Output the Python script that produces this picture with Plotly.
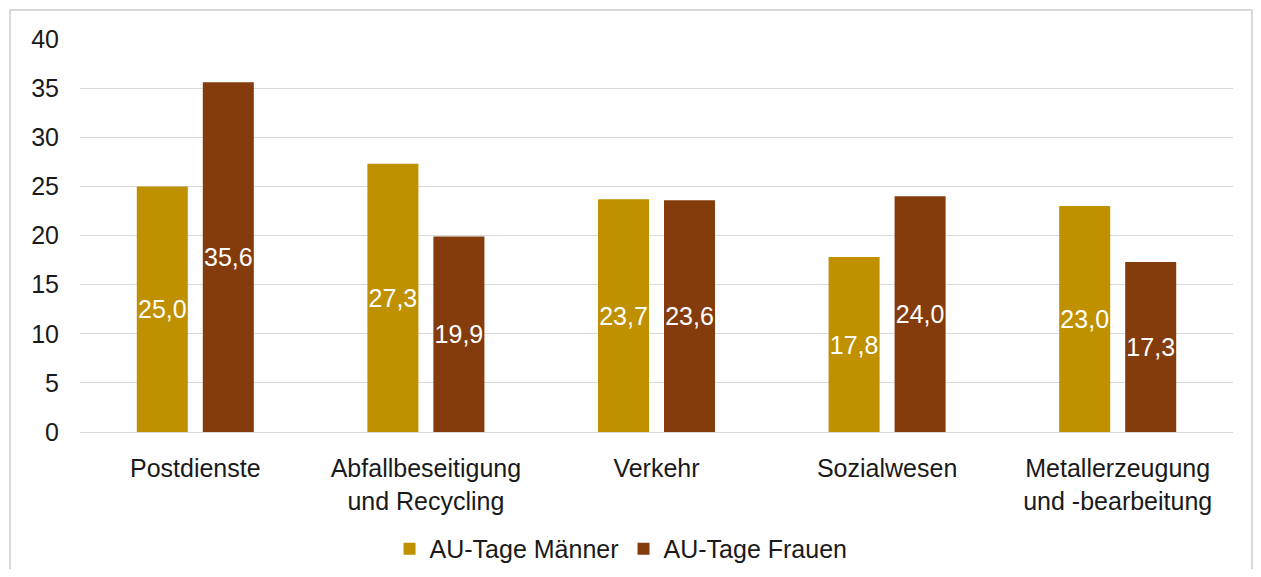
import plotly.graph_objects as go

categories = ['Postdienste', 'Abfallbeseitigung<br>und Recycling', 'Verkehr',
              'Sozialwesen', 'Metallerzeugung<br>und -bearbeitung']
maenner = [25.0, 27.3, 23.7, 17.8, 23.0]
frauen = [35.6, 19.9, 23.6, 24.0, 17.3]
y_ticks = [0, 5, 10, 15, 20, 25, 30, 35, 40]


def fmt(v):
    return f'{v:.1f}'.replace('.', ',')


fig = go.Figure()

for name, vals, col in [('AU-Tage Männer', maenner, '#BF9000'),
                        ('AU-Tage Frauen', frauen, '#843C0C')]:
    fig.add_trace(go.Bar(
        x=categories, y=vals, name=name,
        marker=dict(color=col, line=dict(width=0)),
        text=[fmt(v) for v in vals], textposition='inside', textangle=0,
        insidetextanchor='middle', constraintext='none',
        textfont=dict(color='white', size=25),
    ))

# page body has an 8px margin, so the figure is sized to fit inside it
fig.update_layout(
    width=1245, height=561,
    margin=dict(l=72, r=20, t=31, b=137, autoexpand=False),
    paper_bgcolor='white', plot_bgcolor='white',
    font=dict(family='Liberation Sans, Arial, sans-serif', size=25, color='#1a1a1a'),
    barmode='group', bargap=0.4276, bargroupgap=0.227,
    showlegend=True,
    legend=dict(orientation='h', xref='container', yref='container',
                x=0.4924, xanchor='center', y=0.0357, yanchor='middle',
                font=dict(size=25), itemwidth=30, traceorder='normal'),
    xaxis=dict(showgrid=False, showline=False, ticks='', tickfont=dict(size=25),
               ticklabelstandoff=19, automargin=False),
    yaxis=dict(range=[0, 40], tickvals=y_ticks, showgrid=True, gridcolor='#D9D9D9',
               gridwidth=1, zeroline=True, zerolinecolor='#D9D9D9', zerolinewidth=1,
               tickfont=dict(size=25), ticklabelstandoff=20, ticks='', automargin=False),
    shapes=[dict(type='rect', xref='paper', yref='paper',
                 x0=-0.0607, x1=1.0165, y0=-0.38, y1=1.0738,
                 line=dict(color='#D9D9D9', width=2), fillcolor='rgba(0,0,0,0)',
                 layer='below')],
)

fig.write_html('out.html')
